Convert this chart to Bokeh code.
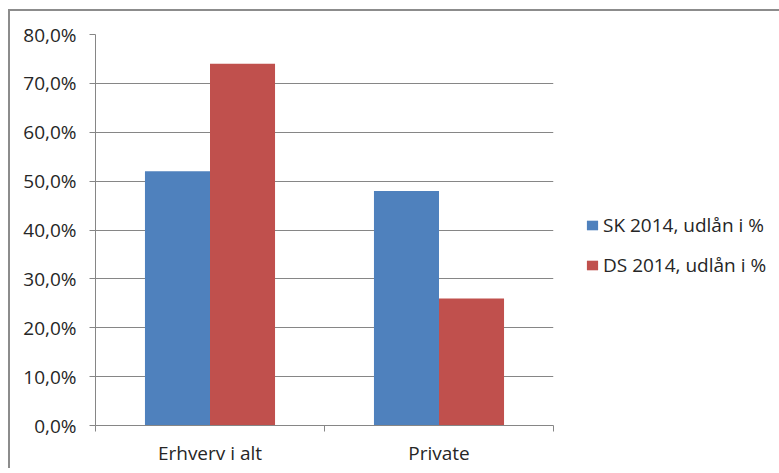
from bokeh.plotting import figure
from bokeh.models import (ColumnDataSource, Legend, LegendItem, FixedTicker,
                          CustomJSTickFormatter, Range1d)
from bokeh.embed import file_html
from bokeh.resources import INLINE

categories = ["Erhverv i alt", "Private"]
series_names = ["SK 2014, udlån i %", "DS 2014, udlån i %"]
sk_2014 = [52.0, 48.0]
ds_2014 = [74.0, 26.0]
y_ticks = [0, 10, 20, 30, 40, 50, 60, 70, 80]
colors = ["#4F81BD", "#C0504D"]

FONT = "Open Sans"
FSIZE = "19px"
GRID = "#868686"

centers = [i + 0.5 for i in range(len(categories))]
bar_w = 0.284
src = ColumnDataSource(dict(
    x_sk=[c - bar_w / 2 for c in centers],
    x_ds=[c + bar_w / 2 for c in centers],
    sk=sk_2014, ds=ds_2014,
))

p = figure(frame_width=458, frame_height=391, output_backend="svg", toolbar_location=None,
           x_range=Range1d(0, len(categories)), y_range=Range1d(0, 80),
           min_border_left=85, min_border_right=0, min_border_top=23,
           min_border_bottom=30)
p.margin = (9, 0, 0, 8)
p.styles = {"border-top": "2px solid #8c8c8c", "border-left": "2px solid #8c8c8c"}
p.outline_line_color = None
p.background_fill_color = "white"
p.border_fill_color = "white"

r1 = p.vbar(x="x_sk", top="sk", width=bar_w, source=src, color=colors[0], line_color=None)
r2 = p.vbar(x="x_ds", top="ds", width=bar_w, source=src, color=colors[1], line_color=None)

# y axis
p.yaxis.ticker = FixedTicker(ticks=y_ticks)
p.yaxis.formatter = CustomJSTickFormatter(
    code="return tick.toFixed(1).replace('.', ',') + '%';")
p.yaxis.axis_line_color = GRID
p.yaxis.major_tick_line_color = GRID
p.yaxis.major_tick_out = 6
p.yaxis.major_tick_in = 0
p.yaxis.minor_tick_line_color = None
p.yaxis.major_label_text_font = FONT
p.yaxis.major_label_text_font_size = FSIZE
p.yaxis.major_label_text_color = "#262626"
p.yaxis.major_label_standoff = 13
p.ygrid.grid_line_color = GRID
p.ygrid.ticker = FixedTicker(ticks=y_ticks)

# x axis
p.xaxis.ticker = FixedTicker(ticks=centers, minor_ticks=list(range(len(categories) + 1)))
p.xaxis.major_label_overrides = {c: n for c, n in zip(centers, categories)}
p.xaxis.axis_line_color = GRID
p.xaxis.major_tick_line_color = None
p.xaxis.minor_tick_line_color = GRID
p.xaxis.minor_tick_out = 6
p.xaxis.minor_tick_in = 0
p.xaxis.major_label_text_font = FONT
p.xaxis.major_label_text_font_size = FSIZE
p.xaxis.major_label_text_color = "#262626"
p.xaxis.major_label_standoff = 8
p.xgrid.grid_line_color = None

legend = Legend(items=[LegendItem(label=series_names[0], renderers=[r1]),
                       LegendItem(label=series_names[1], renderers=[r2])],
                location=(32, 147), orientation="vertical",
                label_text_font=FONT, label_text_font_size=FSIZE,
                label_text_color="#262626", glyph_width=14, glyph_height=12,
                spacing=14, border_line_color=None, background_fill_alpha=0,
                label_standoff=4, margin=0, padding=0)
p.add_layout(legend, "right")

open("out.html", "w").write(file_html(p, INLINE))
